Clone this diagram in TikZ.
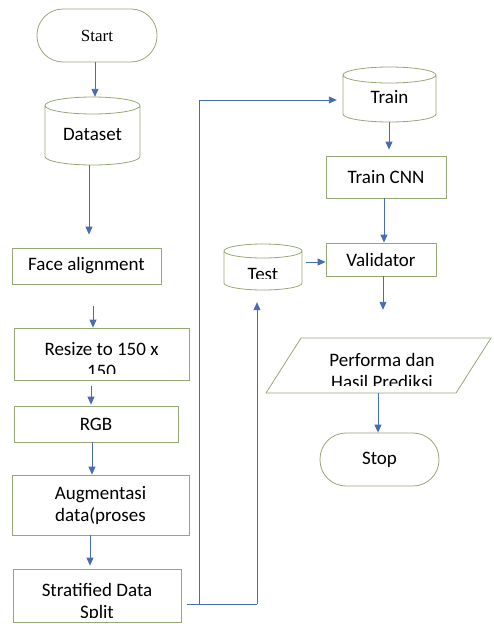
\documentclass[tikz,border=0pt]{standalone}
\usepackage{fontspec}
\setmainfont{Carlito}
\newfontfamily\startfont{Liberation Serif}
\usetikzlibrary{arrows.meta,calc}
\definecolor{edgegreen}{RGB}{150,168,118}
\definecolor{arrowblue}{RGB}{72,108,178}
\newcommand\dbcyl[7]{% name, cx, cy, w, h, ry, text-yshift
  \draw[shapeline] (#2-#4/2,#3-#5/2+#6) arc[start angle=180,end angle=-180,x radius=#4/2,y radius=#6]
    -- (#2-#4/2,#3+#5/2-#6) arc[start angle=180,end angle=0,x radius=#4/2,y radius=#6]
    -- (#2+#4/2,#3-#5/2+#6);
  \node[minimum width=#4pt,minimum height=#5pt,inner sep=0pt] (#1) at (#2,#3) {};
}
\tikzset{
  shapeline/.style={draw=edgegreen,line width=0.8pt},
  procbox/.style={shapeline,rectangle,inner sep=0pt,align=center,font=\fontsize{19}{22}\selectfont},
  termbox/.style={shapeline,rectangle,rounded corners=26pt,inner sep=0pt,align=center},
  lbl/.style={inner sep=0pt,align=center,font=\fontsize{19}{22}\selectfont},
  arr/.style={draw=arrowblue,line width=0.9pt,-{Triangle[length=8pt,width=7pt]}},
  plainline/.style={draw=arrowblue,line width=0.9pt},
}
\begin{document}
\begin{tikzpicture}[x=1pt,y=-1pt]
\useasboundingbox (0,0) rectangle (493,624);
% left column
\node[termbox,minimum width=120pt,minimum height=53pt,font=\startfont\fontsize{17}{20}\selectfont] (start) at (97,35.5) {Start};
\dbcyl{dataset}{92.5}{131}{95}{68}{8.5}{0}
\node[lbl] at (92.5,134) {Dataset};
\node[procbox,minimum width=149pt,minimum height=36pt] (face) at (86.5,266) {Face alignment};
\node[procbox,minimum width=175pt,minimum height=52pt] (resize) at (101.5,354) {};
\begin{scope}
  \clip (15,329) rectangle (188,373);
  \node[lbl] at (101.5,360) {Resize to 150 x\\150};
\end{scope}
\node[procbox,minimum width=164pt,minimum height=36pt] (rgb) at (96,424) {RGB};
\node[procbox,minimum width=177pt,minimum height=60pt] (aug) at (100.5,505) {Augmentasi\\data(proses};
\node[procbox,minimum width=168pt,minimum height=53pt] (strat) at (97,595.5) {};
\begin{scope}
  \clip (14,570) rectangle (180,617);
  \node[lbl] at (97,602) {Stratified Data\\Split};
\end{scope}
% right column
\dbcyl{train}{389.5}{94.5}{93}{55}{8}{0}
\node[lbl] at (389.5,97) {Train};
\node[procbox,minimum width=120pt,minimum height=42pt] (traincnn) at (386,177) {Train CNN};
\node[procbox,minimum width=110pt,minimum height=33pt] (validator) at (381,259.5) {Validator};
\dbcyl{test}{263}{267}{78}{46}{7}{0}
\begin{scope}
  \clip (224,250) rectangle (302,278.5);
  \node[lbl] at (263,274) {Test};
\end{scope}
\node[minimum width=190pt,minimum height=55pt,inner sep=0pt] (para) at (378.5,365.5) {};
\draw[shapeline] (266,393) -- (456,393) -- (491,338) -- (301,338) -- cycle;
\begin{scope}
  \clip (260,338) rectangle (493,385);
  \node[lbl] at (382,371) {Performa dan\\Hasil Prediksi};
\end{scope}
\node[termbox,minimum width=119pt,minimum height=53pt,font=\fontsize{19}{22}\selectfont] (stop) at (379.5,459.5) {Stop};
% guide coordinates
\coordinate (c1) at (95,0);
\coordinate (c2) at (89,0);
\coordinate (c3) at (93,0);
\coordinate (c4) at (91,0);
\coordinate (c5) at (92,0);
\coordinate (c6) at (90,0);
\coordinate (j1) at (199,604);
\coordinate (j2) at (257,604);
\coordinate (k1) at (199,100);
\coordinate (c7) at (389,0);
\coordinate (c8) at (384,0);
\coordinate (c9) at (0,262);
\coordinate (c10) at (383,0);
\coordinate (c11) at (378,0);
% connectors
\draw[arr] (start.south -| c1) -- (dataset.north -| c1);
\draw[arr,shorten >=13pt] (dataset.south -| c2) -- (face.north -| c2);
\draw[arr,shorten <=22pt] (face.south -| c3) -- (resize.north -| c3);
\draw[arr,shorten <=6pt,shorten >=1pt] (resize.south -| c4) -- (rgb.north -| c4);
\draw[arr] (rgb.south -| c5) -- (aug.north -| c5);
\draw[arr,shorten >=3pt] (aug.south -| c6) -- (strat.north -| c6);
\draw[plainline,shorten <=6pt] (strat.east |- j1) -- (j2);
\draw[arr,shorten >=6pt] (j1) -- (k1) -- (train.west |- k1);
\draw[arr,shorten >=12pt] (j2) -- (test.south -| j2);
\draw[arr,shorten >=6pt] (train.south -| c7) -- (traincnn.north -| c7);
\draw[arr] (traincnn.south -| c8) -- (validator.north -| c8);
\draw[arr,shorten <=4pt] (test.east |- c9) -- (validator.west |- c9);
\draw[arr,shorten >=28pt] (validator.south -| c10) -- (para.north -| c10);
\draw[arr] (para.south -| c11) -- (stop.north -| c11);
\end{tikzpicture}
\end{document}
